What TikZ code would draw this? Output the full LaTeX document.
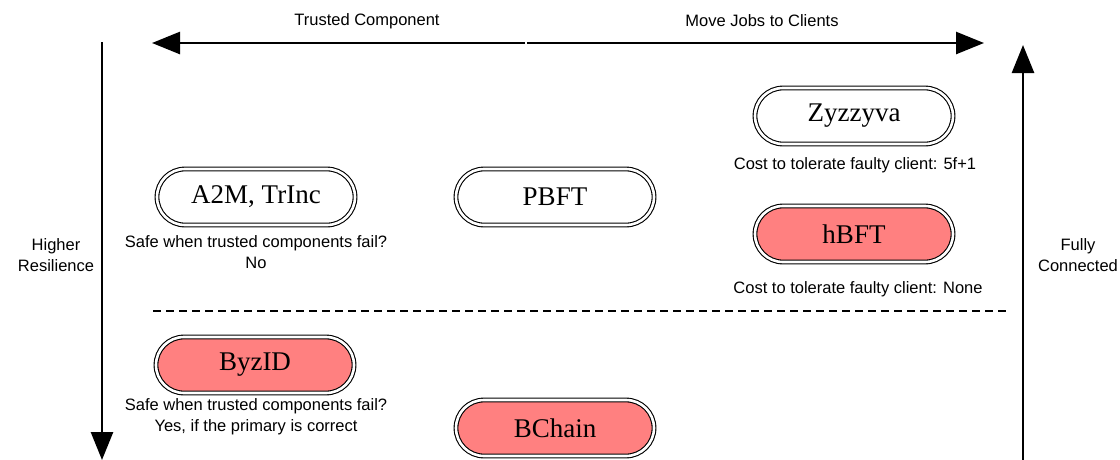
\documentclass[tikz,border=0pt]{standalone}
\usepackage{fontspec}
\setmainfont{Liberation Serif}
\setsansfont{Liberation Sans}
\usetikzlibrary{arrows.meta,shapes.misc}
\definecolor{salmon}{HTML}{FF8080}
\tikzset{
  axis/.style={line width=2.6pt,-{Triangle[length=28pt,width=22pt]}},
  pill/.style={rounded rectangle, draw=black, double=white, double distance=2.6pt,
    line width=1.1pt, minimum width=198pt, minimum height=56pt, inner sep=0pt,
    font=\fontsize{27}{30}\selectfont},
  hot/.style={pill, fill=salmon},
  lbl/.style={font=\sffamily\fontsize{16.5}{21}\selectfont, align=center, inner sep=0pt},
  divider/.style={line width=1.1pt, dash pattern=on 8pt off 5pt}
}
\begin{document}
\begin{tikzpicture}[x=1pt,y=-1pt]
\useasboundingbox (0,0) rectangle (1120,459);

% horizontal axis, split in two directions
\coordinate (tmid) at (525,43);
\coordinate (tmidr) at (527,43);
\coordinate (tleft) at (152,43);
\coordinate (tright) at (984,43);
\draw[axis] (tmid) -- (tleft);
\draw[axis] (tmidr) -- (tright);
\node[lbl] (ltc) at (367,21) {Trusted Component};
\node[lbl] (lmj) at (762,21) {Move Jobs to Clients};

% vertical axes
\coordinate (ltop) at (102,42);
\coordinate (lbot) at (102,460);
\draw[axis] (ltop) -- (lbot);
\coordinate (rbot) at (1023,460);
\coordinate (rtop) at (1023,45);
\draw[axis] (rbot) -- (rtop);
\node[lbl] (lhr) at (56,255) {Higher\\Resilience};
\node[lbl] (lfc) at (1078,255) {Fully\\Connected};

% separator
\coordinate (dl) at (153,311);
\coordinate (dr) at (1007,311);
\draw[divider] (dl) -- (dr);

% protocols
\node[pill] (zyz) at (854,116) {Zyzzyva};
\node[lbl] (zyzc) at (855,165) {Cost to tolerate faulty client: 5f+1};

\node[pill] (a2m) at (256,197) {A2M, TrInc};
\node[lbl] (a2mc) at (256,252) {Safe when trusted components fail?\\No};

\node[pill] (pbft) at (555,197) {PBFT};

\node[hot] (hbft) at (854,234) {hBFT};
\node[lbl] (hbftc) at (858,289) {Cost to tolerate faulty client: None};

\node[hot] (byzid) at (255,365) {ByzID};
\node[lbl] (byzidc) at (256,417) {Safe when trusted components fail?\\Yes, if the primary is correct};

\node[hot] (bchain) at (555,428) {BChain};
\end{tikzpicture}
\end{document}
